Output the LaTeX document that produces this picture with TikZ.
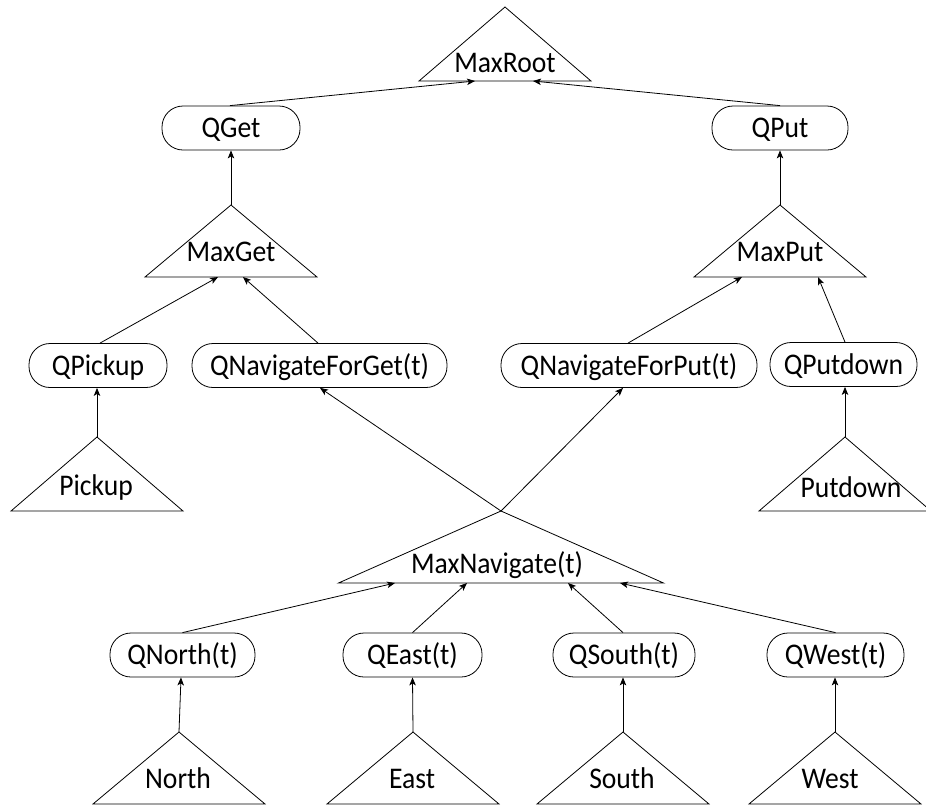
\documentclass[tikz,border=0pt]{standalone}
\usepackage{fontspec}
\setmainfont[FakeStretch=0.92]{Carlito}
\usetikzlibrary{arrows.meta,calc}

\tikzset{
  qbox/.style={draw, rounded corners=21pt, minimum height=44pt, inner sep=0pt,
               text height=19pt, text depth=0pt, line width=0.8pt},
  trilabel/.style={anchor=base, inner sep=0pt},
  triline/.style={line width=0.8pt, line join=miter},
  link/.style={line width=0.8pt, -{Stealth[length=8pt,width=6.5pt,inset=2pt]}},
}

% Max node drawn as a triangle: name, apex x, apex y, half base, height,
% label x, label baseline, label text
\newcommand{\maxtri}[8]{%
  \coordinate (#1-apex) at (#2,#3);
  \coordinate (#1-left) at ($(#1-apex)+(-#4,#5)$);
  \coordinate (#1-right) at ($(#1-apex)+(#4,#5)$);
  \draw[triline] (#1-left) -- (#1-apex) -- (#1-right) -- cycle;
  \node[trilabel] (#1) at (#6,#7) {#8};
}

\begin{document}
\begin{tikzpicture}[x=1pt,y=-1pt,font=\fontsize{30}{36}\selectfont]
\useasboundingbox (0,0) rectangle (926,807);

% Max nodes
\maxtri{maxroot}{505}{7}{86}{74}{505}{72}{MaxRoot}
\maxtri{maxget}{231}{205}{86}{72}{231}{261}{MaxGet}
\maxtri{maxput}{780}{205}{86}{72}{780}{261}{MaxPut}
\maxtri{pickup}{97}{437}{86}{74}{96}{495}{Pickup}
\maxtri{putdown}{845}{437}{86}{74}{851}{497}{Putdown}
\maxtri{maxnav}{501}{511}{162.5}{72}{497}{573}{MaxNavigate(t)}
\maxtri{north}{179}{732}{86}{72}{178}{788}{North}
\maxtri{east}{413}{732}{86}{72}{412}{788}{East}
\maxtri{south}{623}{732}{86}{72}{622}{788}{South}
\maxtri{west}{835}{732}{86}{72}{830}{788}{West}

% Q nodes
\node[qbox, minimum width=138pt] (qget) at (231,128) {QGet};
\node[qbox, minimum width=136pt] (qput) at (780,128) {QPut};
\node[qbox, minimum width=138pt] (qpickup) at (98,365.5) {QPickup};
\node[qbox, minimum width=255pt] (qnavget) at (319.5,365.5) {QNavigateForGet(t)};
\node[qbox, minimum width=256pt] (qnavput) at (629,365.5) {QNavigateForPut(t)};
\node[qbox, minimum width=147pt] (qputdown) at (843.5,364.5) {QPutdown};
\node[qbox, minimum width=145pt] (qnorth) at (182.5,655) {QNorth(t)};
\node[qbox, minimum width=139pt] (qeast) at (412.5,655) {QEast(t)};
\node[qbox, minimum width=142pt] (qsouth) at (624,655) {QSouth(t)};
\node[qbox, minimum width=137pt] (qwest) at (835.5,655) {QWest(t)};

% points where links meet the triangle bases
\coordinate (maxroot-in1) at (475,81);
\coordinate (maxroot-in2) at (533,81);
\coordinate (maxget-in1) at (218,277);
\coordinate (maxget-in2) at (243,277);
\coordinate (maxput-in1) at (742,277);
\coordinate (maxput-in2) at (818,277);
\coordinate (maxnav-in1) at (395,583);
\coordinate (maxnav-in2) at (467,583);
\coordinate (maxnav-in3) at (568,583);
\coordinate (maxnav-in4) at (620,583);

% links
\draw[link] ([xshift=-1pt]qget.north) -- (maxroot-in1);
\draw[link] (qput.north) -- (maxroot-in2);
\draw[link] (maxget-apex) -- (qget.south);
\draw[link] (maxput-apex) -- (qput.south);
\draw[link] ([xshift=2pt]qpickup.north) -- (maxget-in1);
\draw[link] ([xshift=-1.5pt]qnavget.north) -- (maxget-in2);
\draw[link] ([xshift=-1pt]qnavput.north) -- (maxput-in1);
\draw[link] ([xshift=1.5pt]qputdown.north) -- (maxput-in2);
\draw[link] (pickup-apex) -- ([xshift=-1pt]qpickup.south);
\draw[link] (putdown-apex) -- ([xshift=1.5pt]qputdown.south);
\draw[link] (maxnav-apex) -- ([xshift=0.5pt]qnavget.south);
\draw[link] (maxnav-apex) -- ([xshift=-6pt]qnavput.south);
\draw[link] (qnorth.north) -- (maxnav-in1);
\draw[link] (qeast.north) -- (maxnav-in2);
\draw[link] ([xshift=-1pt]qsouth.north) -- (maxnav-in3);
\draw[link] (qwest.north) -- (maxnav-in4);
\draw[link] (north-apex) -- ([xshift=-1.5pt]qnorth.south);
\draw[link] (east-apex) -- (qeast.south);
\draw[link] (south-apex) -- ([xshift=-1pt]qsouth.south);
\draw[link] (west-apex) -- ([xshift=-0.5pt]qwest.south);
\end{tikzpicture}
\end{document}
